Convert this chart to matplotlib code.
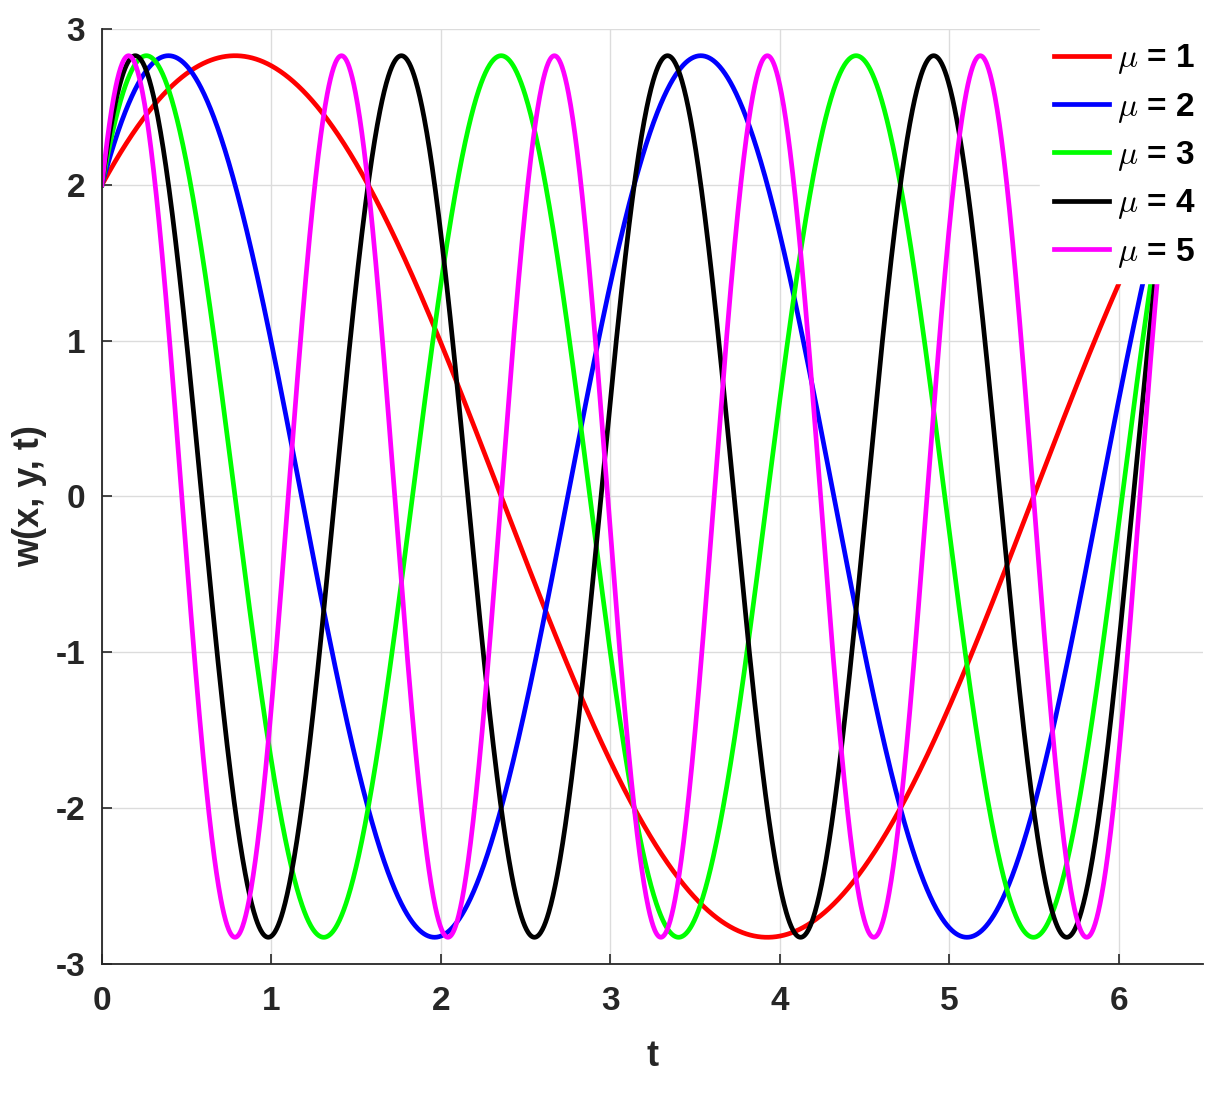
import matplotlib.pyplot as plt
import numpy as np

plt.rcParams['font.family'] = ['Liberation Sans', 'DejaVu Sans']
plt.rcParams['font.weight'] = 'bold'
plt.rcParams['mathtext.fontset'] = 'cm'
plt.rcParams['axes.unicode_minus'] = False

# values of mu shown in the legend, and their line colours
mus = [1, 2, 3, 4, 5]
colors = ['#ff0000', '#0000ff', '#00ff00', '#000000', '#ff00ff']
labels = ['$\\mu$ = 1', '$\\mu$ = 2', '$\\mu$ = 3', '$\\mu$ = 4', '$\\mu$ = 5']

# plotted solution w(x, y, t) = 2 (sin(mu t) + cos(mu t)) over one period of t
t_end = 2 * np.pi
t = np.linspace(0, t_end, 2000)

x_ticks = [0, 1, 2, 3, 4, 5, 6]
y_ticks = [-3, -2, -1, 0, 1, 2, 3]

fig = plt.figure(figsize=(12.21, 10.93), dpi=100)
ax = fig.add_axes([0.0835, 0.118, 0.902, 0.8555])

for mu, c, lab in zip(mus, colors, labels):
    w = 2 * (np.sin(mu * t) + np.cos(mu * t))
    ax.plot(t, w, color=c, lw=3.4, label=lab)

ax.set_xlim(0, 6.5)
ax.set_ylim(-3, 3)
ax.set_xticks(x_ticks)
ax.set_yticks(y_ticks)
ax.tick_params(direction='in', labelsize=24, length=7, width=1.2,
               colors='#262626')
ax.tick_params(axis='x', pad=16)
ax.tick_params(axis='y', pad=12)
ax.grid(True, color='#dcdcdc', lw=1)
ax.set_axisbelow(True)
for s in ['top', 'right']:
    ax.spines[s].set_visible(False)
for s in ['left', 'bottom']:
    ax.spines[s].set_linewidth(1.3)
    ax.spines[s].set_color('#262626')

ax.set_xlabel('t', fontsize=26, fontweight='bold', color='#262626', labelpad=16)
ax.set_ylabel('w(x, y, t)', fontsize=26, fontweight='bold', color='#262626', labelpad=6)

leg = ax.legend(loc='upper right', bbox_to_anchor=(1.005, 1.0), fontsize=24,
                frameon=True, framealpha=1.0, edgecolor='white', fancybox=False,
                handlelength=1.65, handletextpad=0.25, labelspacing=0.43,
                borderpad=0.4, borderaxespad=0.0)
for txt in leg.get_texts():
    txt.set_fontweight('bold')

plt.savefig('out.png', dpi=100)
